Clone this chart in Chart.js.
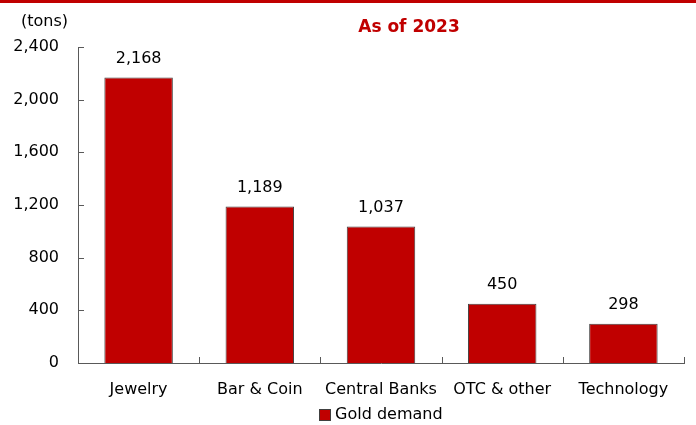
<!DOCTYPE html>
<html>
<head>
<meta charset="utf-8">
<script src="https://cdn.jsdelivr.net/npm/chart.js@4.4.1/dist/chart.umd.min.js"></script>
<style>
  html, body { margin: 0; padding: 0; background: #ffffff; }
  #wrap { position: relative; width: 696px; height: 425px; }
</style>
</head>
<body>
<div id="wrap"><canvas id="chart" width="696" height="425"></canvas></div>
<script>
// Gold demand by sector, 2023 (tons)
const categories = ['Jewelry', 'Bar & Coin', 'Central Banks', 'OTC & other', 'Technology'];
const demandTons = [2168, 1189, 1037, 450, 298];
const seriesName = 'Gold demand';
const titleText = 'As of 2023';
const unitText = '(tons)';
const yTicks = [0, 400, 800, 1200, 1600, 2000, 2400];

const FONT = '"DejaVu Sans", Verdana, sans-serif';
const RED = '#C00000';
const AXIS = '#595959';
const TICK_LEN = 6;

const fmt = v => v.toLocaleString('en-US');

// Top rule, title, unit caption, inward tick marks, value labels and legend
const decorations = {
  id: 'decorations',
  afterDraw(chart) {
    const ctx = chart.ctx;
    const area = chart.chartArea;
    const xs = chart.scales.x;
    const ys = chart.scales.y;
    const ds = chart.data.datasets[0];
    ctx.save();

    // red rule across the top
    ctx.fillStyle = RED;
    ctx.fillRect(0, 0, chart.width, 3);

    // title
    ctx.fillStyle = RED;
    ctx.font = 'bold 17px ' + FONT;
    ctx.textAlign = 'center';
    ctx.textBaseline = 'middle';
    ctx.fillText(titleText, 409, 28);

    // unit caption
    ctx.fillStyle = '#000';
    ctx.font = '16px ' + FONT;
    ctx.textAlign = 'left';
    ctx.fillText(unitText, 21, 22);

    // inward tick marks
    ctx.strokeStyle = AXIS;
    ctx.lineWidth = 1;
    ctx.beginPath();
    for (let i = 1; i <= categories.length; i++) {
      const x = Math.round(xs.getPixelForValue(i - 0.5)) + 0.5;
      ctx.moveTo(x, area.bottom);
      ctx.lineTo(x, area.bottom - TICK_LEN);
    }
    yTicks.forEach(v => {
      if (v === 0) return;
      const y = Math.round(ys.getPixelForValue(v)) + 0.5;
      ctx.moveTo(area.left, y);
      ctx.lineTo(area.left + TICK_LEN, y);
    });
    ctx.stroke();

    // value labels above bars
    const meta = chart.getDatasetMeta(0);
    ctx.fillStyle = '#000';
    ctx.font = '16px ' + FONT;
    ctx.textAlign = 'center';
    ctx.textBaseline = 'middle';
    meta.data.forEach((bar, i) => {
      ctx.fillText(fmt(demandTons[i]), bar.x, bar.y - 19);
    });

    // legend centred under the plot area
    const box = 12, gap = 4;
    const tw = ctx.measureText(ds.label).width;
    const total = box + gap + tw;
    const lx = Math.round((area.left + area.right) / 2 - total / 2);
    const ly = area.bottom + 52;
    ctx.fillStyle = ds.backgroundColor;
    ctx.fillRect(lx, ly - box / 2, box, box);
    ctx.strokeStyle = ds.borderColor;
    ctx.strokeRect(lx + 0.5, ly - box / 2 + 0.5, box - 1, box - 1);
    ctx.fillStyle = '#000';
    ctx.textAlign = 'left';
    ctx.fillText(ds.label, lx + box + gap, ly);
    ctx.restore();
  }
};

new Chart(document.getElementById('chart'), {
  type: 'bar',
  data: {
    labels: categories,
    datasets: [{
      label: seriesName,
      data: demandTons,
      backgroundColor: RED,
      borderColor: '#404040',
      borderWidth: 1,
      borderSkipped: 'bottom',
      categoryPercentage: 1.0,
      barPercentage: 0.565
    }]
  },
  options: {
    responsive: false,
    animation: false,
    devicePixelRatio: 1,
    layout: { padding: { top: 47, right: 12, left: 0, bottom: 0 } },
    plugins: {
      title: { display: false },
      tooltip: { enabled: false },
      legend: { display: false }
    },
    scales: {
      x: {
        afterFit(scale) { scale.height = 62; },
        grid: { display: false, drawTicks: false },
        border: { display: true, color: AXIS, width: 1 },
        ticks: {
          font: { family: FONT, size: 16 },
          color: '#000',
          padding: 17,
          maxRotation: 0,
          autoSkip: false
        }
      },
      y: {
        min: 0,
        max: 2400,
        afterBuildTicks(scale) {
          scale.ticks = yTicks.map(v => ({ value: v }));
        },
        afterFit(scale) { scale.width = 78; },
        grid: { display: false, drawTicks: false },
        border: { display: true, color: AXIS, width: 1 },
        ticks: {
          font: { family: FONT, size: 16 },
          color: '#000',
          padding: 19,
          callback: v => fmt(v)
        }
      }
    }
  },
  plugins: [decorations]
});
</script>
</body>
</html>
